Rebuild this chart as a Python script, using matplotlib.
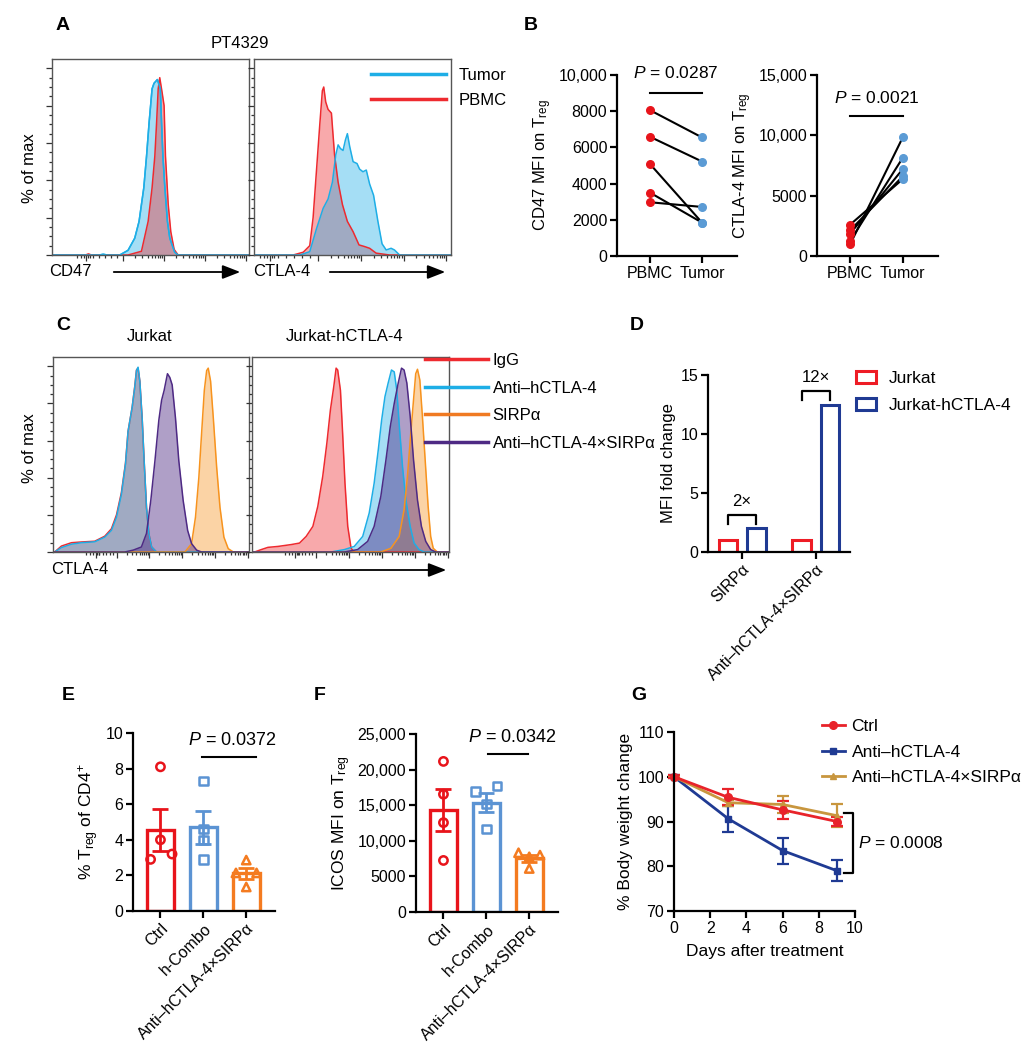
import numpy as np
import matplotlib
matplotlib.use("Agg")
import matplotlib.pyplot as plt
from matplotlib.lines import Line2D
from matplotlib.patches import Patch

plt.rcParams["font.family"] = ["Liberation Sans", "DejaVu Sans"]
plt.rcParams["mathtext.fontset"] = "custom"
plt.rcParams["mathtext.rm"] = "Liberation Sans"
plt.rcParams["mathtext.it"] = "Liberation Sans:italic"
plt.rcParams["font.size"] = 11.5

W, H = 1032, 1050

# ---------------- data ----------------
# A: flow histograms (x = channel position 0-100, y = % of max)
a_cd47_pbmc_x = [0, 17, 18.5, 20, 38.6, 45.4, 48.8, 50.8, 52.2, 53.1, 53.9, 54.7, 55.9, 56.9, 57.6, 59, 60.3, 62, 64, 100]
a_cd47_pbmc_y = [0, 0, 0.6, 0, 0, 2, 18, 36, 53, 71, 89, 95, 87, 80, 53, 27, 12.5, 3, 0, 0]
a_cd47_tumor_x = [0, 24, 26, 28, 34.4, 38.6, 42, 44.2, 46.6, 48, 49.3, 50.8, 51.8, 53.5, 55, 55.6, 56.3, 57.3, 58.6, 59.8, 62.3, 64, 100]
a_cd47_tumor_y = [0, 0, 0.4, 0, 0, 2.5, 9, 18, 36, 53, 71, 89, 92, 94, 89, 71, 53, 36, 18, 9, 1.5, 0, 0]
a_ctla4_pbmc_x = [0, 19.9, 25, 28.3, 30, 31.7, 33.4, 34.7, 35.4, 36.4, 37.6, 39.3, 40, 40.9, 42.7, 44.9, 47.4, 50.3, 53.3, 56.2, 58.7, 62, 68.8, 100]
a_ctla4_pbmc_y = [0, 0, 1.5, 5, 20, 45, 70, 88, 90, 82, 78, 76, 66, 53.6, 39, 27, 18, 12.5, 5.4, 4.5, 3.6, 1, 0, 0]
a_ctla4_tumor_x = [0, 23.3, 28.3, 31.7, 35.1, 37.6, 39.8, 41.5, 42.7, 43.9, 45.2, 46.4, 47.4, 48.6, 50.3, 52.3, 53.6, 55.3, 57, 58.7, 60.7, 62.9, 65, 67.1, 69.6, 71.3, 73.9, 100]
a_ctla4_tumor_y = [0, 0, 1.8, 14, 25, 30, 39, 53.6, 59, 57, 56, 61.6, 65, 58, 50, 49, 46, 44.6, 45.5, 38, 32, 18, 6, 2.7, 3.6, 2.7, 0, 0]

# C: Jurkat (left) and Jurkat-hCTLA-4 (right) histograms
c_j_igg_x = [0, 0.85, 4.3, 9.4, 14.5, 21.3, 26.4, 29.8, 32.4, 34.9, 37, 38.3, 40.4, 41.7, 42.6, 43.4, 44.3, 45.5, 46.5, 47.7, 48.9, 50.3, 52.8, 100]
c_j_igg_y = [0, 0, 3.2, 5, 5.4, 5.8, 8.5, 12.5, 20, 32, 48, 65, 78, 89, 98, 99, 92, 71.7, 49, 24, 9.9, 2.7, 0, 0]
c_j_anti_x = [0, 0.85, 4.3, 9.4, 14.5, 21.3, 26.4, 29.8, 32.4, 34.9, 37, 38.3, 40.4, 41.7, 42.6, 43.4, 44.3, 45.5, 46.5, 47.7, 48.9, 50.3, 52.8, 100]
c_j_anti_y = [0, 0, 2.4, 4.2, 5, 5.5, 8, 11.6, 18.8, 31, 47.5, 65, 78, 88.7, 97.7, 99.5, 92, 71.7, 49, 24, 9.9, 2.7, 0, 0]
c_j_sirpa_x = [0, 67.3, 70.7, 72.7, 74.4, 75.8, 77.2, 78.4, 79.2, 80.4, 81.8, 83.5, 85.2, 87.2, 89.4, 92, 100]
c_j_sirpa_y = [0, 0, 4.5, 18.8, 40, 63.6, 87, 97.7, 99, 92, 72, 45.7, 24, 8, 1.8, 0, 0]
c_j_bisp_x = [0, 36.6, 40.9, 45.1, 47.7, 49.9, 52, 54, 55.4, 56.7, 58.4, 59.6, 60.8, 62.5, 64.2, 66.4, 68.7, 70.7, 73.3, 75.8, 100]
c_j_bisp_y = [0, 0, 1, 2.7, 10, 27.8, 49, 71, 81.7, 87, 96, 94, 90, 72, 49, 27.8, 11.6, 4.5, 1, 0, 0]

c_h_igg_x = [0, 1.3, 4.7, 8.1, 13.2, 19.9, 24.1, 27.5, 30.9, 33.4, 35.9, 38, 39.8, 41.5, 42.7, 43.5, 44.9, 46, 47.2, 48.6, 50.3, 51.9, 100]
c_h_igg_y = [0, 0, 1.3, 2.5, 3, 4, 4.8, 8.4, 13.8, 24.6, 40.7, 58.6, 76.5, 89, 99, 98, 87, 64, 37, 13.8, 2, 0, 0]
c_h_anti_x = [0, 40.1, 46.9, 51.9, 56.2, 59.5, 62, 64.1, 65.8, 67.5, 69.1, 70.8, 72.2, 73.5, 74.7, 76.4, 78.1, 80.3, 82.3, 84.8, 87.4, 100]
c_h_anti_y = [0, 0, 1.3, 3, 8.4, 21, 37, 55, 71, 83.7, 90.9, 98, 97, 87, 69, 46, 28, 13.8, 4.8, 1.3, 0, 0]
c_h_sirpa_x = [0, 65.4, 70.5, 74.7, 77.2, 78.9, 80.6, 82, 83.1, 84, 85.2, 86.5, 87.9, 89.4, 90.7, 92, 94.1, 100]
c_h_sirpa_y = [0, 0, 2, 8.4, 22.8, 40.7, 64, 82, 96, 98.4, 92.6, 73, 49.6, 24.6, 8.4, 2, 0, 0]
c_h_bisp_x = [0, 46.9, 53.6, 58.7, 62, 65.4, 68, 70.2, 72.2, 74.2, 75.9, 77.2, 78.6, 80.3, 82, 84, 86, 88.2, 90.7, 93.3, 100]
c_h_bisp_y = [0, 0, 1.3, 5.7, 13.8, 30, 49.6, 67.6, 80, 90.9, 99, 98, 91, 73, 49.6, 28, 13.8, 5.7, 1.3, 0, 0]

# B: paired MFI on Treg
b_cd47_pbmc = [8060, 6590, 5090, 3505, 2970]
b_cd47_tumor = [6550, 5220, 1845, 1845, 2710]
b_ctla4_pbmc = [2600, 2130, 1850, 1250, 970]
b_ctla4_tumor = [6370, 6600, 7200, 8140, 9830]
b_groups = ["PBMC", "Tumor"]

# D: MFI fold change
d_groups = ["SIRPα", "Anti–hCTLA-4×SIRPα"]
d_jurkat = [1, 1]
d_hctla4 = [2, 12.5]
d_fold = ["2×", "12×"]

# E / F: per-mouse values
ef_groups = ["Ctrl", "h-Combo", "Anti–hCTLA-4×SIRPα"]
e_ctrl = [8.1, 4.0, 2.9, 3.2]
e_combo = [7.3, 4.6, 4.0, 2.9]
e_bisp = [2.86, 2.14, 2.14, 1.35]
f_ctrl = [21150, 16540, 12550, 7240]
f_combo = [16920, 17720, 15180, 11650]
f_bisp = [8320, 7990, 7750, 6110]

# G: body weight
g_days = [0, 3, 6, 9]
g_ctrl = [100, 95.4, 92.6, 90.0]
g_ctrl_sem = [0.3, 1.8, 2.0, 1.1]
g_anti = [100, 90.6, 83.5, 79.0]
g_anti_sem = [0.3, 2.9, 2.9, 2.4]
g_bisp = [100, 94.2, 93.8, 91.3]
g_bisp_sem = [0.2, 0.7, 1.8, 2.5]

# colours
F_RED, F_BLUE, F_ORANGE, F_PURPLE = "#ee2a2f", "#1eaee6", "#f7931e", "#4e2a84"
RED, LBLUE, ORANGE, NAVY, GOLD = "#e8141b", "#5b93d3", "#f47b20", "#1f3a93", "#c8963e"

fig = plt.figure(figsize=(W / 100, H / 100), dpi=100)


def px_axes(left, top, right, bottom):
    return fig.add_axes([left / W, 1 - bottom / H, (right - left) / W, (bottom - top) / H])


def ftext(x, y, s, **kw):
    return fig.text(x / W, 1 - y / H, s, **kw)


def farrow(x0, x1, y):
    fig.add_artist(matplotlib.patches.FancyArrowPatch(
        (x0 / W, 1 - y / H), (x1 / W, 1 - y / H), transform=fig.transFigure,
        arrowstyle="-|>,head_length=0.9,head_width=0.35", mutation_scale=12,
        color="black", lw=1.3))


def flow_ticks(zero, first, width, n):
    majors = [zero] + [first + k * width for k in range(n)]
    minors = []
    for k in range(n - 1):
        start = first + k * width
        minors += [start + np.log10(m) * width for m in range(2, 10)]
    minors += list(np.linspace(zero, first, 7)[1:-1])
    minors += [zero - 1.5, zero - 3, zero - 5, zero + 1, zero + 2]
    return majors, minors


def flow_box(rect, ticks):
    ax = px_axes(*rect)
    ax.set_xlim(0, 100)
    ax.set_ylim(0, 105)
    ax.set_yticks(np.arange(0, 101, 20))
    ax.set_yticks(np.arange(0, 101, 5), minor=True)
    ax.set_xticks(ticks[0])
    ax.set_xticks(ticks[1], minor=True)
    ax.tick_params(which="both", direction="out", labelbottom=False, labelleft=False,
                   width=0.9, color="#333333")
    ax.tick_params(which="major", length=4)
    ax.tick_params(which="minor", length=2.2)
    for s in ax.spines.values():
        s.set_linewidth(1.0)
        s.set_color("#555555")
    return ax


def hist(ax, x, y, color, alpha=0.4):
    ax.fill_between(x, y, color=color, alpha=alpha, lw=0)
    ax.plot(x, y, color=color, lw=1.1)


def gp_style(ax):
    for side in ("top", "right"):
        ax.spines[side].set_visible(False)
    for side in ("left", "bottom"):
        ax.spines[side].set_linewidth(1.6)
    ax.tick_params(direction="out", length=5, width=1.6, labelsize=11.5, pad=2)


# ---------------- panel A ----------------
ax = flow_box((52, 59, 249, 255), flow_ticks(17.5, 36, 20.8, 4))
hist(ax, a_cd47_tumor_x, a_cd47_tumor_y, F_BLUE)
hist(ax, a_cd47_pbmc_x, a_cd47_pbmc_y, F_RED)
ax.plot(a_cd47_tumor_x, a_cd47_tumor_y, color=F_BLUE, lw=1.1)

ax = flow_box((254, 59, 451, 255), flow_ticks(8, 32.5, 21.7, 4))
hist(ax, a_ctla4_pbmc_x, a_ctla4_pbmc_y, F_RED)
hist(ax, a_ctla4_tumor_x, a_ctla4_tumor_y, F_BLUE)
fig.legend(handles=[Line2D([], [], color=F_BLUE, lw=2.5), Line2D([], [], color=F_RED, lw=2.5)],
           labels=["Tumor", "PBMC"], loc="center left", bbox_to_anchor=(371 / W, 1 - 88 / H),
           frameon=False, borderpad=0, borderaxespad=0, handlelength=4.5, handletextpad=0.75,
           labelspacing=0.62, fontsize=12)

ftext(63, 25, "A", fontsize=14, fontweight="bold", ha="center", va="center")
ftext(240, 43, "PT4329", fontsize=12, ha="center", va="center")
ftext(29, 168, "% of max", fontsize=12, rotation=90, ha="center", va="center")
ftext(49, 272, "CD47", fontsize=12, ha="left", va="center")
farrow(111, 243, 272)
ftext(253, 272, "CTLA-4", fontsize=12, ha="left", va="center")
farrow(327, 448, 272)

# ---------------- panel C ----------------
c_ticks = flow_ticks(21.7, 32.5, 16.7, 5)
ax = flow_box((53, 357, 249, 552), c_ticks)
hist(ax, c_j_igg_x, c_j_igg_y, F_RED)
hist(ax, c_j_anti_x, c_j_anti_y, F_BLUE)
hist(ax, c_j_sirpa_x, c_j_sirpa_y, F_ORANGE)
hist(ax, c_j_bisp_x, c_j_bisp_y, F_PURPLE, alpha=0.45)

ax = flow_box((252, 357, 449, 552), c_ticks)
hist(ax, c_h_igg_x, c_h_igg_y, F_RED)
hist(ax, c_h_anti_x, c_h_anti_y, F_BLUE)
hist(ax, c_h_sirpa_x, c_h_sirpa_y, F_ORANGE)
hist(ax, c_h_bisp_x, c_h_bisp_y, F_PURPLE, alpha=0.45)
fig.legend(handles=[Line2D([], [], color=c, lw=2.5) for c in (F_RED, F_BLUE, "#f07a22", F_PURPLE)],
           labels=["IgG", "Anti–hCTLA-4", "SIRPα", "Anti–hCTLA-4×SIRPα"],
           loc="center left", bbox_to_anchor=(425 / W, 1 - 402 / H),
           frameon=False, borderpad=0, borderaxespad=0, handlelength=3.75, handletextpad=0.3,
           labelspacing=0.75, fontsize=12)

ftext(63, 325, "C", fontsize=14, fontweight="bold", ha="center", va="center")
ftext(150, 336, "Jurkat", fontsize=12, ha="center", va="center")
ftext(345, 336, "Jurkat-hCTLA-4", fontsize=12, ha="center", va="center")
ftext(29, 448, "% of max", fontsize=12, rotation=90, ha="center", va="center")
ftext(51, 570, "CTLA-4", fontsize=12, ha="left", va="center")
farrow(135, 449, 570)

# ---------------- panel B ----------------
ftext(531, 25, "B", fontsize=14, fontweight="bold", ha="center", va="center")

for rect, pbmc, tumor, ymax, yticks, ylabels, ylab, pval, p_y, line_y in [
    ((617, 75, 737, 256), b_cd47_pbmc, b_cd47_tumor, 10000,
     [0, 2000, 4000, 6000, 8000, 10000], ["0", "2000", "4000", "6000", "8000", "10,000"],
     "CD47 MFI on T$_\\mathregular{reg}$", "0.0287", 10100, 9020),
    ((817, 75, 938, 256), b_ctla4_pbmc, b_ctla4_tumor, 15000,
     [0, 5000, 10000, 15000], ["0", "5000", "10,000", "15,000"],
     "CTLA-4 MFI on T$_\\mathregular{reg}$", "0.0021", 13090, 11630),
]:
    ax = px_axes(*rect)
    gp_style(ax)
    for a, b in zip(pbmc, tumor):
        ax.plot([0, 1], [a, b], color="black", lw=1.5, zorder=1)
    ax.scatter(np.zeros(len(pbmc)), pbmc, s=30, color=RED, zorder=3, clip_on=False)
    ax.scatter(np.ones(len(tumor)), tumor, s=30, color="#5b9bd5", zorder=3, clip_on=False)
    ax.set_xlim(-0.63, 1.67)
    ax.set_ylim(0, ymax)
    ax.set_yticks(yticks, ylabels)
    ax.set_xticks([0, 1], b_groups)
    ax.set_ylabel(ylab, fontsize=12, labelpad=3)
    ax.plot([0, 1], [line_y, line_y], color="black", lw=1.5, clip_on=False)
    ax.text(0.5, p_y, "$P$ = " + pval, ha="center", va="center", fontsize=12.5, clip_on=False)

# ---------------- panel D ----------------
ftext(637, 325, "D", fontsize=14, fontweight="bold", ha="center", va="center")
ax = px_axes(708, 375, 850, 552)
gp_style(ax)
xd = np.arange(len(d_groups))
ax.bar(xd - 0.195, d_jurkat, 0.245, facecolor="white", edgecolor="#ee1c25", lw=2.2, label="Jurkat")
ax.bar(xd + 0.195, d_hctla4, 0.245, facecolor="white", edgecolor=NAVY, lw=2.2, label="Jurkat-hCTLA-4")
for i, lab in enumerate(d_fold):
    top = d_hctla4[i] + 1.15
    ax.plot([i - 0.195, i - 0.195, i + 0.195, i + 0.195], [top - 0.75, top, top, top - 0.75],
            color="black", lw=1.6, clip_on=False)
    ax.text(i, top + 1.1, lab, ha="center", va="center", fontsize=12, clip_on=False)
ax.set_xlim(-0.46, 1.46)
ax.set_ylim(0, 15)
ax.set_yticks([0, 5, 10, 15])
ax.set_xticks(xd, d_groups, rotation=45, ha="right", rotation_mode="anchor")
ax.set_ylabel("MFI fold change", fontsize=12, labelpad=3)
fig.legend(handles=[Patch(facecolor="white", edgecolor="#ee1c25", lw=2.2),
                    Patch(facecolor="white", edgecolor=NAVY, lw=2.2)],
           labels=["Jurkat", "Jurkat-hCTLA-4"], loc="center left",
           bbox_to_anchor=(856 / W, 1 - 392 / H), frameon=False, borderpad=0, borderaxespad=0,
           handlelength=1.15, handleheight=0.7, handletextpad=0.75, labelspacing=0.72, fontsize=12.5)

# ---------------- panels E and F ----------------
ef_colors = [RED, LBLUE, ORANGE]
ef_markers = ["o", "s", "^"]
e_offsets = [[0, 0, -0.23, 0.27], [0, 0, 0, 0], [0, -0.24, 0.24, 0]]
f_offsets = [[0, 0, 0, 0], [-0.25, 0.25, 0, 0], [-0.25, 0.25, 0, 0]]

for rect, groups_vals, offsets, ylim, yticks, ylabels, ylab, pval, p_x, p_y, line_x, line_y, lab, lab_xy in [
    ((133, 733, 275, 911), [e_ctrl, e_combo, e_bisp], e_offsets, 10,
     [0, 2, 4, 6, 8, 10], ["0", "2", "4", "6", "8", "10"],
     "% T$_\\mathregular{reg}$ of CD4$^\\mathregular{+}$", "0.0372", 1.67, 9.57, [0.97, 2.23], 8.65,
     "E", (68, 695)),
    ((416, 734, 558, 912), [f_ctrl, f_combo, f_bisp], f_offsets, 25000,
     [0, 5000, 10000, 15000, 20000, 25000], ["0", "5000", "10,000", "15,000", "20,000", "25,000"],
     "ICOS MFI on T$_\\mathregular{reg}$", "0.0342", 1.6, 24440, [1.03, 1.96], 22230,
     "F", (320, 695)),
]:
    ax = px_axes(*rect)
    gp_style(ax)
    for i, vals in enumerate(groups_vals):
        m = np.mean(vals)
        sem = np.std(vals, ddof=1) / np.sqrt(len(vals))
        ax.bar(i, m, 0.62, facecolor="white", edgecolor=ef_colors[i], lw=2.4, zorder=1)
        ax.errorbar(i, m, yerr=sem, color=ef_colors[i], capsize=6, capthick=2, elinewidth=2, zorder=2)
        ax.scatter(i + np.array(offsets[i]), vals, marker=ef_markers[i], s=36, facecolors="none",
                   edgecolors=ef_colors[i], linewidths=1.8, zorder=3, clip_on=False)
    ax.set_xlim(-0.64, 2.67)
    ax.set_ylim(0, ylim)
    ax.set_yticks(yticks, ylabels)
    ax.set_xticks(range(3), ef_groups, rotation=45, ha="right", rotation_mode="anchor")
    ax.set_ylabel(ylab, fontsize=12.5, labelpad=3)
    ax.plot(line_x, [line_y, line_y], color="black", lw=1.5, clip_on=False)
    ax.text(p_x, p_y, "$P$ = " + pval, ha="center", va="center", fontsize=13, clip_on=False)
    ftext(lab_xy[0], lab_xy[1], lab, fontsize=14, fontweight="bold", ha="center", va="center")

# ---------------- panel G ----------------
ftext(639, 696, "G", fontsize=14, fontweight="bold", ha="center", va="center")
ax = px_axes(674, 732, 855, 911)
gp_style(ax)
series = [
    ("Anti–hCTLA-4", g_anti, g_anti_sem, NAVY, "s", 5),
    ("Anti–hCTLA-4×SIRPα", g_bisp, g_bisp_sem, GOLD, "^", 5),
    ("Ctrl", g_ctrl, g_ctrl_sem, "#e8232a", "o", 5.5),
]
for name, vals, sem, color, marker, ms in series:
    ax.errorbar(g_days, vals, yerr=sem, color=color, marker=marker, ms=ms, lw=2,
                elinewidth=1.6, capsize=4, capthick=1.6, clip_on=False)
ax.set_xlim(0, 10)
ax.set_ylim(70, 110)
ax.set_xticks([0, 2, 4, 6, 8, 10])
ax.set_yticks([70, 80, 90, 100, 110])
ax.set_xlabel("Days after treatment", fontsize=12.5, labelpad=6)
ax.set_ylabel("% Body weight change", fontsize=12.5, labelpad=3)
b_top = max(g_ctrl[-1], g_bisp[-1]) + 0.6
b_bot = g_anti[-1] - 0.6
ax.plot([9.4, 9.9, 9.9, 9.4], [b_top, b_top, b_bot, b_bot], color="black", lw=1.6, clip_on=False)
ax.text(10.15, (b_top + b_bot) / 2, "$P$ = 0.0008", ha="left", va="center", fontsize=12.5, clip_on=False)
order = [2, 0, 1]
fig.legend(handles=[Line2D([], [], color=series[k][3], marker=series[k][4], ms=series[k][5], lw=2) for k in order],
           labels=[series[k][0] for k in order], loc="center left",
           bbox_to_anchor=(822 / W, 1 - 752 / H), frameon=False, borderpad=0, borderaxespad=0,
           handlelength=1.3, handletextpad=0.4, labelspacing=0.6, fontsize=12.5)

fig.savefig("out.png", dpi=100)
